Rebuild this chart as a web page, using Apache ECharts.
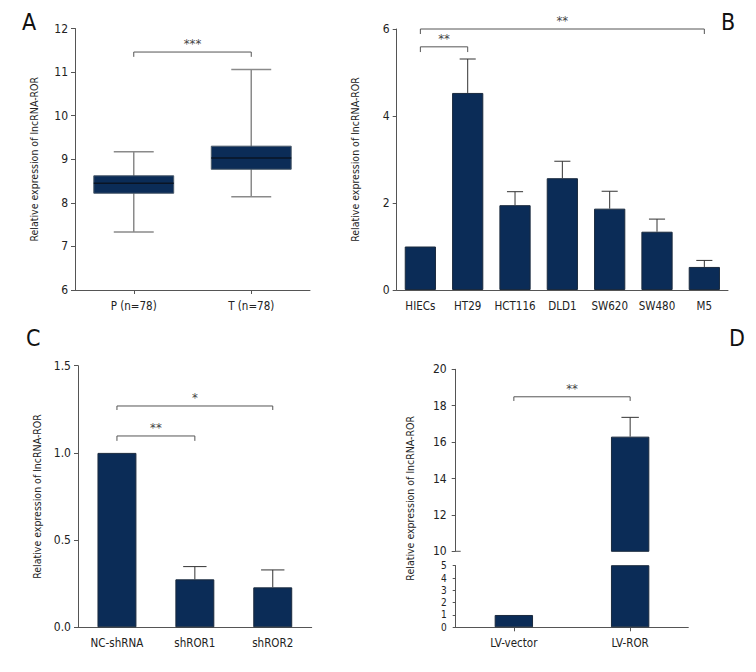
<!DOCTYPE html>
<html><head><meta charset="utf-8">
<script src="https://cdn.jsdelivr.net/npm/echarts@6/dist/echarts.min.js"></script>
<style>html,body{margin:0;padding:0;background:#fff}#c{width:756px;height:672px}</style>
</head><body><div id="c"></div>
<script>
const FONT = "'DejaVu Sans Condensed', 'Liberation Sans Narrow', sans-serif";
const NAVY = '#0b2c57';
const AXIS = '#555';
const YTITLE = 'Relative expression of lncRNA-ROR';

// Panel A: box plot  [min, Q1, median, Q3, max]
const boxCategories = ['P (n=78)', 'T (n=78)'];
const boxStats = [[7.33, 8.22, 8.45, 8.62, 9.17], [8.14, 8.77, 9.03, 9.30, 11.06]];

// Panel B
const cellLines = ['HIECs', 'HT29', 'HCT116', 'DLD1', 'SW620', 'SW480', 'M5'];
const cellMeans = [1.0, 4.53, 1.95, 2.57, 1.87, 1.34, 0.53];
const cellErrTop = [1.0, 5.31, 2.26, 2.96, 2.27, 1.63, 0.68];

// Panel C
const shCategories = ['NC-shRNA', 'shROR1', 'shROR2'];
const shMeans = [1.0, 0.275, 0.229];
const shErrTop = [1.0, 0.348, 0.329];

// Panel D
const lvCategories = ['LV-vector', 'LV-ROR'];
const lvMeans = [1.0, 16.3];
const lvErrTop = [null, 17.36];
const lvBreakAt = [10];

// significance brackets: [fromIndex, toIndex, level, tickEnd, label]
const bracketsA = [[0, 1, 11.46, 11.35, '***']];
const bracketsB = [[0, 1, 5.59, 5.47, '**'], [0, 6, 6.0, 5.885, '**']];
const bracketsC = [[0, 1, 1.097, 1.069, '**'], [0, 2, 1.269, 1.246, '*']];
const bracketsD = [[0, 1, 18.49, 18.26, '**']];

function bracketSeries(arr, xi, yi) {
  return {
    type: 'custom', xAxisIndex: xi, yAxisIndex: yi, silent: true, z: 10, clip: false,
    itemStyle: { color: '#444' },
    data: arr.map(r => [r[0], r[1], r[2], r[3]]),
    encode: { x: [0, 1], y: [2, 3] },
    renderItem: (params, api) => {
      const a = api.coord([api.value(0), api.value(2)]);
      const b = api.coord([api.value(1), api.value(2)]);
      const d = api.coord([api.value(0), api.value(3)])[1];
      return { type: 'group', children: [
        { type: 'polyline', shape: { points: [[a[0], d], [a[0], a[1]], [b[0], b[1]], [b[0], d]] },
          style: { stroke: '#555', lineWidth: 1, fill: null } },
        { type: 'text', x: (a[0] + b[0]) / 2, y: a[1] - 2,
          style: { text: arr[params.dataIndex][4], align: 'center', verticalAlign: 'bottom',
            fontSize: 13, fontFamily: FONT, fill: '#444' } }
      ]};
    }
  };
}

function errorSeries(means, tops, xi, yi, capFrac) {
  return {
    type: 'custom', xAxisIndex: xi, yAxisIndex: yi, silent: true, z: 5,
    itemStyle: { color: '#333' },
    data: means.map((m, i) => [i, m, tops[i] == null ? m : tops[i]]),
    renderItem: (params, api) => {
      const v = api.value(1), t = api.value(2);
      if (t <= v) return null;
      const p0 = api.coord([api.value(0), v]);
      const p1 = api.coord([api.value(0), t]);
      const cw = api.size([1, 0])[0] * capFrac / 2;
      return { type: 'group', children: [
        { type: 'line', shape: { x1: p0[0], y1: p0[1], x2: p1[0], y2: p1[1] }, style: { stroke: '#333', lineWidth: 1 } },
        { type: 'line', shape: { x1: p1[0] - cw, y1: p1[1], x2: p1[0] + cw, y2: p1[1] }, style: { stroke: '#333', lineWidth: 1 } }
      ]};
    }
  };
}

function yAxisBase(min, max, interval, extra) {
  return Object.assign({
    type: 'value', min, max, interval,
    axisLine: { show: true, lineStyle: { color: AXIS } },
    axisTick: { show: true, length: 4, lineStyle: { color: AXIS } },
    axisLabel: { color: '#222', fontSize: 12, fontFamily: FONT, margin: 7 },
    splitLine: { show: false },
    name: YTITLE, nameLocation: 'middle', nameGap: 36, nameRotate: 90,
    nameTextStyle: { color: '#222', fontSize: 10.5, fontFamily: FONT }
  }, extra || {});
}
function xAxisBase(cats, extra) {
  return Object.assign({
    type: 'category', data: cats, boundaryGap: true,
    axisLine: { show: true, lineStyle: { color: AXIS } },
    axisTick: { show: true, alignWithLabel: true, length: 4, lineStyle: { color: AXIS } },
    axisLabel: { color: '#222', fontSize: 11.5, fontFamily: FONT, margin: 10, interval: 0 },
    splitLine: { show: false }
  }, extra || {});
}

const option = {
  animation: false,
  backgroundColor: '#fff',
  textStyle: { fontFamily: FONT },
  grid: [
    { left: 75, top: 28.5, width: 235, height: 261.5 },          // A
    { left: 396.7, top: 29, width: 331.3, height: 261 },         // B
    { left: 78, top: 365.7, width: 233.7, height: 261.6 },       // C
    { left: 455.7, top: 369.3, width: 232.6, height: 182 },      // D upper
    { left: 455.7, top: 565.7, width: 232.6, height: 61.6 },     // D lower
    { left: 455.7, top: 369.3, width: 232.6, height: 258 }       // D title holder
  ],
  xAxis: [
    xAxisBase(boxCategories, { gridIndex: 0 }),
    xAxisBase(cellLines, { gridIndex: 1, axisTick: { show: false } }),
    xAxisBase(shCategories, { gridIndex: 2, axisTick: { show: false } }),
    xAxisBase(lvCategories, { gridIndex: 3, show: false }),
    xAxisBase(lvCategories, { gridIndex: 4 }),
    { type: 'value', gridIndex: 5, show: false }
  ],
  yAxis: [
    yAxisBase(6, 12, 1, { gridIndex: 0 }),
    yAxisBase(0, 6, 2, { gridIndex: 1 }),
    yAxisBase(0, 1.5, 0.5, { gridIndex: 2, axisLabel: { color: '#222', fontSize: 12, fontFamily: FONT, margin: 7, formatter: v => v.toFixed(1) } }),
    yAxisBase(10, 20, 2, { gridIndex: 3, name: '', axisLabel: { color: '#222', fontSize: 12, fontFamily: FONT, margin: 9 } }),
    yAxisBase(0, 5, 1, { gridIndex: 4, name: '', axisTick: { show: true, length: 3, lineStyle: { color: AXIS } },
      axisLabel: { color: '#222', fontSize: 10, fontFamily: FONT, margin: 9, lineHeight: 10 } }),
    { type: 'value', gridIndex: 5, axisLine: { show: false }, axisTick: { show: false }, axisLabel: { show: false },
      splitLine: { show: false }, name: YTITLE, nameLocation: 'middle', nameGap: 40, nameRotate: 90,
      nameTextStyle: { color: '#222', fontSize: 10.5, fontFamily: FONT } }
  ],
  series: [
    {
      type: 'custom', xAxisIndex: 0, yAxisIndex: 0, silent: true,
      itemStyle: { color: NAVY },
      data: boxStats.map((s, i) => [i].concat(s)),
      encode: { x: 0, y: [1, 2, 3, 4, 5] },
      renderItem: (params, api) => {
        const i = api.value(0);
        const bw = api.size([1, 0])[0] * 0.68;
        const cw = bw * 0.5;
        const pMin = api.coord([i, api.value(1)]);
        const pQ1 = api.coord([i, api.value(2)]);
        const pMed = api.coord([i, api.value(3)]);
        const pQ3 = api.coord([i, api.value(4)]);
        const pMax = api.coord([i, api.value(5)]);
        const x = pMin[0];
        const grey = { stroke: '#8a8a8a', lineWidth: 1.5 };
        return { type: 'group', children: [
          { type: 'line', shape: { x1: x, y1: pMax[1], x2: x, y2: pMin[1] }, style: grey },
          { type: 'line', shape: { x1: x - cw / 2, y1: pMax[1], x2: x + cw / 2, y2: pMax[1] }, style: grey },
          { type: 'line', shape: { x1: x - cw / 2, y1: pMin[1], x2: x + cw / 2, y2: pMin[1] }, style: grey },
          { type: 'rect', shape: { x: x - bw / 2, y: pQ3[1], width: bw, height: pQ1[1] - pQ3[1] },
            style: { fill: NAVY, stroke: '#4a5a6a', lineWidth: 1 } },
          { type: 'line', shape: { x1: x - bw / 2, y1: pMed[1], x2: x + bw / 2, y2: pMed[1] }, style: { stroke: '#0a1424', lineWidth: 1.5 } }
        ]};
      }
    },
    bracketSeries(bracketsA, 0, 0),
    { type: 'bar', xAxisIndex: 1, yAxisIndex: 1, data: cellMeans, barWidth: '66%',
      itemStyle: { color: NAVY, borderColor: '#1a2a3e', borderWidth: 1 } },
    errorSeries(cellMeans, cellErrTop, 1, 1, 0.34),
    bracketSeries(bracketsB, 1, 1),
    { type: 'bar', xAxisIndex: 2, yAxisIndex: 2, data: shMeans, barWidth: '50%',
      itemStyle: { color: NAVY, borderColor: '#1a2a3e', borderWidth: 1 } },
    errorSeries(shMeans, shErrTop, 2, 2, 0.3),
    bracketSeries(bracketsC, 2, 2),
    { type: 'bar', xAxisIndex: 3, yAxisIndex: 3, data: lvMeans.map(v => v >= 10 ? v : '-'), barWidth: '33%', clip: true,
      itemStyle: { color: NAVY, borderColor: '#1a2a3e', borderWidth: 1 } },
    errorSeries(lvMeans, lvErrTop, 3, 3, 0.15),
    bracketSeries(bracketsD, 3, 3),
    { // axis-break mark extending right of the axis at the break value
      type: 'custom', xAxisIndex: 3, yAxisIndex: 3, silent: true, clip: false,
      itemStyle: { color: AXIS },
      data: lvBreakAt.map(v => [0, v]),
      renderItem: (params, api) => {
        const y = api.coord([0, api.value(1)])[1];
        const x0 = params.coordSys.x;
        return { type: 'line', shape: { x1: x0, y1: y, x2: x0 + 5, y2: y }, style: { stroke: AXIS, lineWidth: 1 } };
      }
    },
    { type: 'bar', xAxisIndex: 4, yAxisIndex: 4, data: lvMeans, barWidth: '33%', clip: true,
      itemStyle: { color: NAVY, borderColor: '#1a2a3e', borderWidth: 1 } }
  ],
  graphic: [
    { type: 'text', left: 22, top: 10, style: { text: 'A', fontSize: 23, fontFamily: FONT, fill: '#111' } },
    { type: 'text', left: 721, top: 10, style: { text: 'B', fontSize: 23, fontFamily: FONT, fill: '#111' } },
    { type: 'text', left: 26, top: 326, style: { text: 'C', fontSize: 23, fontFamily: FONT, fill: '#111' } },
    { type: 'text', left: 729, top: 326, style: { text: 'D', fontSize: 23, fontFamily: FONT, fill: '#111' } }
  ]
};

const chart = echarts.init(document.getElementById('c'), null, { renderer: 'svg' });
chart.setOption(option);
</script>
</body></html>
